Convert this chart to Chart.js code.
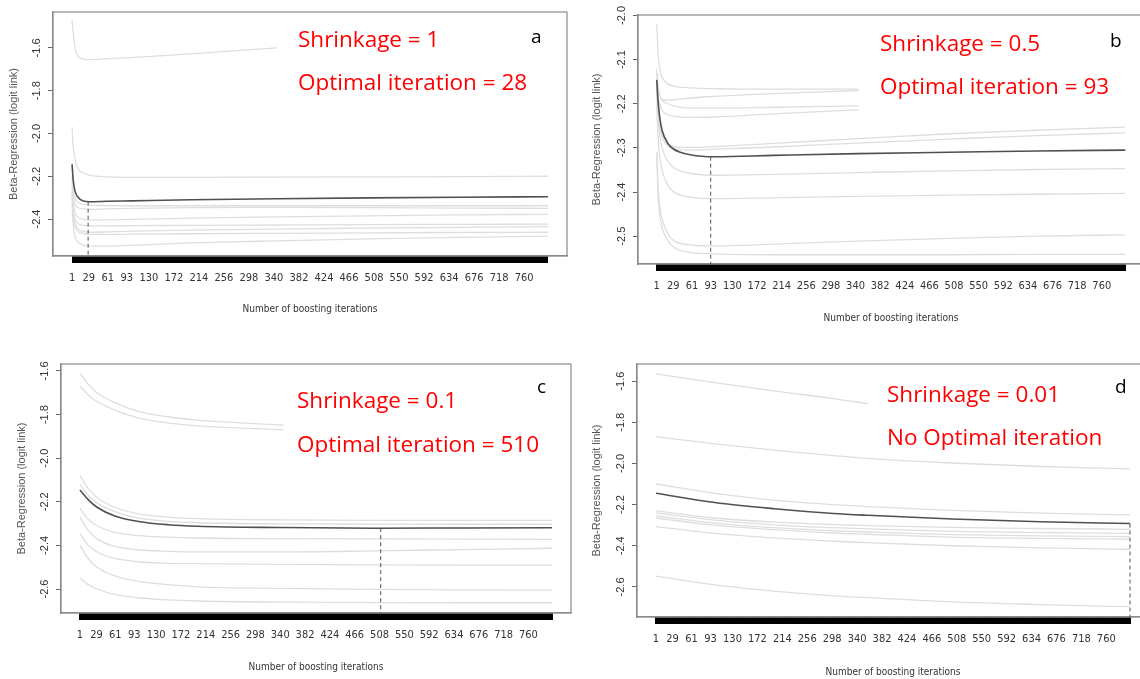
<!DOCTYPE html>
<html>
<head>
<meta charset="utf-8">
<script src="https://cdn.jsdelivr.net/npm/chart.js@4.4.1/dist/chart.umd.min.js"></script>
<style>
  html, body { margin: 0; padding: 0; background: #fff; width: 1140px; height: 679px; overflow: hidden; position: relative; }
  canvas { position: absolute; }
</style>
</head>
<body>
<canvas id="pa" width="570" height="330" style="left:0;top:0"></canvas>
<canvas id="pb" width="590" height="330" style="left:570px;top:0"></canvas>
<canvas id="pc" width="580" height="339" style="left:0;top:340px"></canvas>
<canvas id="pd" width="590" height="339" style="left:570px;top:340px"></canvas>
<script>
// tick labels shared by all four panels
const xLabels = [1, 29, 61, 93, 130, 172, 214, 256, 298, 340, 382, 424, 466, 508, 550, 592, 634, 676, 718, 760];
const maxIter = 800;

// panel a - shrinkage 1
const itersA = [1, 3, 6, 10, 20, 30, 60, 100, 200, 345, 500, 650, 800];
const meanA = [-2.144, -2.22, -2.27, -2.295, -2.316, -2.319, -2.317, -2.315, -2.31, -2.305, -2.301, -2.298, -2.296];
const foldsA = [
  [-1.47, -1.53, -1.60, -1.635, -1.652, -1.655, -1.65, -1.645, -1.628, -1.600, null, null, null],
  [-1.97, -2.06, -2.12, -2.16, -2.185, -2.195, -2.203, -2.205, -2.205, -2.204, -2.203, -2.202, -2.20],
  [-2.20, -2.27, -2.30, -2.32, -2.332, -2.335, -2.337, -2.338, -2.338, -2.338, -2.338, -2.338, -2.338],
  [-2.22, -2.29, -2.33, -2.345, -2.353, -2.355, -2.353, -2.35, -2.347, -2.346, -2.347, -2.349, -2.35],
  [-2.25, -2.33, -2.37, -2.39, -2.402, -2.405, -2.404, -2.402, -2.396, -2.39, -2.385, -2.381, -2.378],
  [-2.27, -2.36, -2.40, -2.42, -2.43, -2.432, -2.432, -2.431, -2.43, -2.428, -2.426, -2.425, -2.424],
  [-2.28, -2.38, -2.42, -2.445, -2.458, -2.462, -2.46, -2.457, -2.452, -2.447, -2.442, -2.439, -2.436],
  [-2.30, -2.39, -2.43, -2.455, -2.468, -2.472, -2.472, -2.471, -2.469, -2.467, -2.465, -2.463, -2.462],
  [-2.33, -2.43, -2.48, -2.505, -2.522, -2.527, -2.527, -2.523, -2.512, -2.502, -2.493, -2.486, -2.48]
];
const yTicksA = [-1.6, -1.8, -2.0, -2.2, -2.4];

// panel b - shrinkage 0.5
const itersB = [1, 3, 6, 10, 20, 30, 60, 100, 200, 345, 500, 650, 800];
const meanB = [-2.146, -2.19, -2.23, -2.26, -2.29, -2.303, -2.316, -2.32, -2.317, -2.313, -2.31, -2.307, -2.305];
const foldsB = [
  [-2.02, -2.08, -2.12, -2.14, -2.155, -2.16, -2.164, -2.166, -2.167, -2.167, null, null, null],
  [-2.12, -2.16, -2.18, -2.19, -2.192, -2.191, -2.187, -2.183, -2.177, -2.170, null, null, null],
  [-2.13, -2.16, -2.18, -2.192, -2.2, -2.205, -2.21, -2.21, -2.208, -2.205, null, null, null],
  [-2.14, -2.18, -2.2, -2.215, -2.225, -2.228, -2.231, -2.23, -2.223, -2.214, null, null, null],
  [-2.16, -2.2, -2.24, -2.265, -2.29, -2.298, -2.299, -2.297, -2.29, -2.279, -2.268, -2.26, -2.253],
  [-2.17, -2.21, -2.25, -2.275, -2.296, -2.302, -2.305, -2.303, -2.298, -2.289, -2.28, -2.272, -2.266],
  [-2.18, -2.23, -2.27, -2.3, -2.33, -2.345, -2.358, -2.362, -2.36, -2.356, -2.352, -2.349, -2.347],
  [-2.2, -2.27, -2.32, -2.35, -2.385, -2.4, -2.412, -2.415, -2.413, -2.41, -2.407, -2.405, -2.403],
  [-2.31, -2.38, -2.43, -2.46, -2.495, -2.51, -2.52, -2.522, -2.518, -2.511, -2.505, -2.5, -2.497],
  [-2.31, -2.4, -2.45, -2.48, -2.51, -2.525, -2.537, -2.54, -2.542, -2.542, -2.542, -2.541, -2.541]
];
const yTicksB = [-2.0, -2.1, -2.2, -2.3, -2.4, -2.5];

// panel c - shrinkage 0.1
const itersC = [1, 15, 30, 60, 100, 150, 200, 345, 500, 650, 800];
const meanC = [-2.146, -2.19, -2.225, -2.265, -2.29, -2.305, -2.312, -2.318, -2.321, -2.32, -2.319];
const foldsC = [
  [-1.61, -1.66, -1.70, -1.745, -1.785, -1.81, -1.825, -1.848, null, null, null],
  [-1.67, -1.71, -1.74, -1.78, -1.815, -1.838, -1.852, -1.87, null, null, null],
  [-2.08, -2.14, -2.18, -2.225, -2.255, -2.27, -2.277, -2.283, -2.285, -2.285, -2.285],
  [-2.12, -2.17, -2.205, -2.245, -2.275, -2.29, -2.296, -2.301, -2.302, -2.303, -2.303],
  [-2.23, -2.28, -2.31, -2.34, -2.355, -2.362, -2.366, -2.369, -2.37, -2.371, -2.372],
  [-2.27, -2.33, -2.37, -2.405, -2.42, -2.427, -2.43, -2.43, -2.425, -2.419, -2.413],
  [-2.345, -2.4, -2.43, -2.46, -2.475, -2.482, -2.484, -2.487, -2.489, -2.49, -2.49],
  [-2.40, -2.46, -2.50, -2.54, -2.565, -2.58, -2.59, -2.597, -2.602, -2.604, -2.605],
  [-2.55, -2.58, -2.60, -2.625, -2.64, -2.65, -2.655, -2.66, -2.662, -2.663, -2.663]
];
const yTicksC = [-1.6, -1.8, -2.0, -2.2, -2.4, -2.6];

// panel d - shrinkage 0.01
const itersD = [1, 100, 200, 300, 358, 500, 650, 800];
const meanD = [-2.145, -2.19, -2.22, -2.243, -2.252, -2.27, -2.283, -2.292];
const foldsD = [
  [-1.565, -1.607, -1.648, -1.685, -1.71, null, null, null],
  [-1.87, -1.905, -1.935, -1.962, -1.975, -1.998, -2.015, -2.026],
  [-2.10, -2.145, -2.178, -2.2, -2.21, -2.228, -2.241, -2.25],
  [-2.23, -2.265, -2.285, -2.297, -2.302, -2.311, -2.316, -2.32],
  [-2.24, -2.275, -2.298, -2.312, -2.318, -2.33, -2.336, -2.34],
  [-2.255, -2.29, -2.312, -2.327, -2.333, -2.346, -2.352, -2.356],
  [-2.265, -2.30, -2.322, -2.338, -2.344, -2.358, -2.364, -2.368],
  [-2.307, -2.34, -2.362, -2.378, -2.385, -2.4, -2.41, -2.417],
  [-2.547, -2.59, -2.62, -2.643, -2.652, -2.673, -2.686, -2.696]
];
const yTicksD = [-1.6, -1.8, -2.0, -2.2, -2.4, -2.6];

// optimal iteration marker: [iteration, risk]
const optA = [28, -2.319];
const optB = [93, -2.32];
const optC = [510, -2.321];
const optD = [800, -2.292];

const rugIters = [];
for (let i = 1; i <= maxIter; i++) rugIters.push(i);

const narrow = '"Liberation Sans Narrow", "DejaVu Sans Condensed", "Liberation Sans", sans-serif';
const plain = '"Liberation Sans", Arial, sans-serif';

const frame = {
  id: 'frame',
  beforeDatasetsDraw(chart) {
    const { ctx, chartArea: a } = chart;
    ctx.save();
    ctx.strokeStyle = '#8a8a8a';
    ctx.lineWidth = 1.2;
    ctx.strokeRect(a.left, a.top, a.right - a.left, a.bottom - a.top);
    ctx.restore();
  },
  afterDraw(chart, args, opts) {
    const ctx = chart.ctx;
    ctx.save();
    (opts.notes || []).forEach(n => {
      ctx.font = n.font;
      ctx.fillStyle = n.color;
      ctx.textBaseline = 'alphabetic';
      ctx.fillText(n.text, n.x, n.y);
    });
    ctx.restore();
  }
};

function makePanel(id, iters, mean, folds, opt, yTicks, p) {
  const pts = ys => iters.map((x, i) => ({ x: x, y: ys[i] }));
  const datasets = [
    { data: pts(mean), borderColor: '#505050', borderWidth: 1.6 },
    { data: [{ x: opt[0], y: opt[1] }, { x: opt[0], y: p.yMin }], borderColor: '#555', borderWidth: 1,
      borderDash: [4, 3], tension: 0, cubicInterpolationMode: 'default' }
  ];
  folds.forEach(f => datasets.push({ data: pts(f), borderColor: '#dedede', borderWidth: 1.3 }));

  new Chart(document.getElementById(id), {
    type: 'line',
    data: { datasets: datasets },
    options: {
      responsive: false,
      animation: false,
      layout: { padding: p.pad },
      elements: {
        point: { radius: 0 },
        line: { tension: 0.4, cubicInterpolationMode: 'monotone', fill: false }
      },
      plugins: {
        legend: { display: false },
        tooltip: { enabled: false },
        frame: { notes: p.notes }
      },
      scales: {
        x: {
          type: 'linear', min: -31, max: 832,
          afterBuildTicks: s => { s.ticks = rugIters.map(v => ({ value: v })); },
          afterFit: s => { s.height = p.xH; },
          grid: { drawOnChartArea: false, tickLength: 7, tickColor: '#000', tickWidth: 1 },
          border: { color: '#8a8a8a', width: 1.2 },
          ticks: {
            autoSkip: false, maxRotation: 0, minRotation: 0, padding: 9,
            color: '#333', font: { family: narrow, size: 11 },
            callback: v => xLabels.includes(v) ? String(v) : ''
          },
          title: {
            display: true, text: 'Number of boosting iterations', color: '#333',
            font: { family: narrow, size: 10 },
            padding: { top: 0, bottom: p.xTitlePad }
          }
        },
        y: {
          type: 'linear', min: p.yMin, max: p.yMax,
          afterBuildTicks: s => { s.ticks = yTicks.map(v => ({ value: v })); },
          afterFit: s => { s.width = p.yW; },
          grid: { drawOnChartArea: false, tickLength: 5, tickColor: '#666' },
          border: { color: '#8a8a8a', width: 1.2 },
          ticks: {
            minRotation: 90, maxRotation: 90, crossAlign: 'center', padding: 2,
            color: '#333', font: { family: plain, size: 11 },
            callback: v => v.toFixed(1)
          },
          title: {
            display: true, text: 'Beta-Regression (logit link)', color: '#555',
            font: { family: plain, size: 11 },
            padding: { top: p.yTitlePad, bottom: 0 }
          }
        }
      }
    },
    plugins: [frame]
  });
}

const red = '#ff0000';
const bigFont = '22.5px "Open Sans"';
const tagFont = '19px "Open Sans"';

makePanel('pa', itersA, meanA, foldsA, optA, yTicksA, {
  pad: { top: 12, right: 3, left: 0, bottom: 0 }, yW: 53, xH: 74,
  yMin: -2.573, yMax: -1.432, xTitlePad: 15, yTitlePad: 7,
  notes: [
    { text: 'Shrinkage = 1', x: 298, y: 47, font: bigFont, color: red },
    { text: 'Optimal iteration = 28', x: 298, y: 90, font: bigFont, color: red },
    { text: 'a', x: 531, y: 43, font: tagFont, color: '#000' }
  ]
});
makePanel('pb', itersB, meanB, foldsB, optB, yTicksB, {
  pad: { top: 15, right: 16, left: 0, bottom: 0 }, yW: 68, xH: 66,
  yMin: -2.563, yMax: -1.999, xTitlePad: 6, yTitlePad: 20,
  notes: [
    { text: 'Shrinkage = 0.5', x: 310, y: 51, font: bigFont, color: red },
    { text: 'Optimal iteration = 93', x: 310, y: 94, font: bigFont, color: red },
    { text: 'b', x: 540, y: 47, font: tagFont, color: '#000' }
  ]
});
makePanel('pc', itersC, meanC, foldsC, optC, yTicksC, {
  pad: { top: 24, right: 9, left: 0, bottom: 0 }, yW: 61, xH: 66,
  yMin: -2.71, yMax: -1.568, xTitlePad: 6, yTitlePad: 15,
  notes: [
    { text: 'Shrinkage = 0.1', x: 297, y: 68, font: bigFont, color: red },
    { text: 'Optimal iteration = 510', x: 297, y: 112, font: bigFont, color: red },
    { text: 'c', x: 537, y: 53, font: tagFont, color: '#000' }
  ]
});
makePanel('pd', itersD, meanD, foldsD, optD, yTicksD, {
  pad: { top: 24, right: 11, left: 0, bottom: 0 }, yW: 67, xH: 62,
  yMin: -2.746, yMax: -1.517, xTitlePad: 1, yTitlePad: 20,
  notes: [
    { text: 'Shrinkage = 0.01', x: 317, y: 62, font: bigFont, color: red },
    { text: 'No Optimal iteration', x: 317, y: 105, font: bigFont, color: red },
    { text: 'd', x: 545, y: 53, font: tagFont, color: '#000' }
  ]
});
</script>
</body>
</html>
